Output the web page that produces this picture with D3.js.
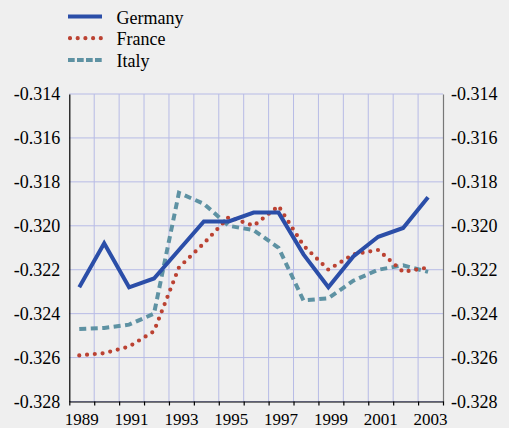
<!DOCTYPE html>
<html>
<head>
<meta charset="utf-8">
<script src="https://cdn.jsdelivr.net/npm/d3@7"></script>
<style>
  html, body { margin: 0; padding: 0; background: #efefef; }
  svg { display: block; }
  text { font-family: "Liberation Serif", "Times New Roman", serif; fill: #000; }
</style>
</head>
<body>
<svg id="chart" width="509" height="428"></svg>
<script>
// Annual series, 1989–2003
const years = [1989, 1990, 1991, 1992, 1993, 1994, 1995, 1996, 1997, 1998, 1999, 2000, 2001, 2002, 2003];
const germany = [-0.3228, -0.3208, -0.3228, -0.3224, -0.3211, -0.3198, -0.3198, -0.3194, -0.3194, -0.3213, -0.3228, -0.3214, -0.3205, -0.3201, -0.3187];
const france  = [-0.3259, -0.3258, -0.3255, -0.3248, -0.3219, -0.3208, -0.3196, -0.3200, -0.3191, -0.3209, -0.3220, -0.3213, -0.3211, -0.3221, -0.3219];
const italy   = [-0.3247, -0.32465, -0.3245, -0.3240, -0.3185, -0.3190, -0.3200, -0.3202, -0.3210, -0.3234, -0.3233, -0.3225, -0.3220, -0.3218, -0.3221];
const yTicks = [-0.328, -0.326, -0.324, -0.322, -0.320, -0.318, -0.316, -0.314];
const seriesNames = ["Germany", "France", "Italy"];

const W = 509, H = 428;
const pLeft = 69.3, pRight = 443, pTop = 94, pBottom = 401.5;

const svg = d3.select("#chart");
svg.append("rect").attr("width", W).attr("height", H).attr("fill", "#efefef");

const x = d3.scaleBand().domain(years).range([pLeft, pRight]).padding(0);
const xEdge = d3.scaleLinear().domain([0, years.length]).range([pLeft, pRight]);
const y = d3.scaleLinear().domain([-0.328, -0.314]).range([pBottom, pTop]);
const px = d => x(d) + x.bandwidth() * 0.4;

// grid
const grid = svg.append("g").attr("stroke", "#b7bbe6").attr("stroke-width", 1);
grid.selectAll("line.h").data(yTicks).join("line").attr("class", "h")
  .attr("x1", pLeft).attr("x2", pRight).attr("y1", d => y(d)).attr("y2", d => y(d));
grid.selectAll("line.v").data(d3.range(1, years.length)).join("line").attr("class", "v")
  .attr("x1", d => xEdge(d)).attr("x2", d => xEdge(d)).attr("y1", pTop).attr("y2", pBottom);

// axes
const fmt = d => d.toFixed(3);
const gl = svg.append("g").attr("transform", `translate(${pLeft},0)`)
  .call(d3.axisLeft(y).tickValues(yTicks).tickSize(0).tickPadding(9).tickFormat(fmt));
gl.select(".domain").attr("stroke", "#000").attr("stroke-width", 1.2);
gl.selectAll("text").attr("font-size", 18);

const gr = svg.append("g").attr("transform", `translate(${pRight},0)`)
  .call(d3.axisRight(y).tickValues(yTicks).tickSize(0).tickPadding(8).tickFormat(fmt));
gr.select(".domain").attr("stroke", "#777").attr("stroke-width", 1.2);
gr.selectAll("text").attr("font-size", 18);

const gbTicks = svg.append("g").attr("transform", `translate(0,${pBottom})`)
  .call(d3.axisBottom(xEdge).tickValues(d3.range(0, years.length + 1)).tickSize(4).tickSizeOuter(0).tickFormat(""));
gbTicks.select(".domain").attr("stroke", "#000").attr("stroke-width", 1.2);
gbTicks.selectAll(".tick line").attr("stroke", "#000").attr("stroke-width", 1.2);

const gbLabels = svg.append("g").attr("transform", `translate(0,${pBottom})`)
  .call(d3.axisBottom(x).tickSize(0).tickFormat(d => (d % 2 === 1 ? String(d) : "")));
gbLabels.select(".domain").remove();
gbLabels.selectAll("text").attr("font-size", 17).attr("dy", null).attr("y", 23);

// series
const line = (vals) => d3.line().x((d, i) => px(years[i])).y(d => y(d))(vals);

const styles = {
  Germany: { color: "#2b4ea8", width: 4, dash: null, cap: "butt", legendDash: null },
  France:  { color: "#bb4232", width: 4.2, dash: "0,7.8", cap: "round", legendDash: "0,7.7" },
  Italy:   { color: "#5e92a3", width: 4, dash: "7,4.5", cap: "butt", legendDash: "6.7,2.3" }
};
const data = { Germany: germany, France: france, Italy: italy };

["Italy", "France", "Germany"].forEach(name => {
  const s = styles[name];
  svg.append("path").attr("d", line(data[name]))
    .attr("fill", "none").attr("stroke", s.color).attr("stroke-width", s.width)
    .attr("stroke-linecap", s.cap).attr("stroke-linejoin", "miter")
    .attr("stroke-dasharray", s.dash);
});

// legend
const lg = svg.append("g");
seriesNames.forEach((name, i) => {
  const s = styles[name];
  const ly = 16.5 + i * 21.7;
  lg.append("line").attr("x1", name === "France" ? 70 : 68).attr("x2", 102)
    .attr("y1", ly).attr("y2", ly)
    .attr("stroke", s.color).attr("stroke-width", s.width)
    .attr("stroke-linecap", s.cap).attr("stroke-dasharray", s.legendDash);
  lg.append("text").attr("x", 116.5).attr("y", ly + 7)
    .attr("font-size", 18).text(name);
});
</script>
</body>
</html>
